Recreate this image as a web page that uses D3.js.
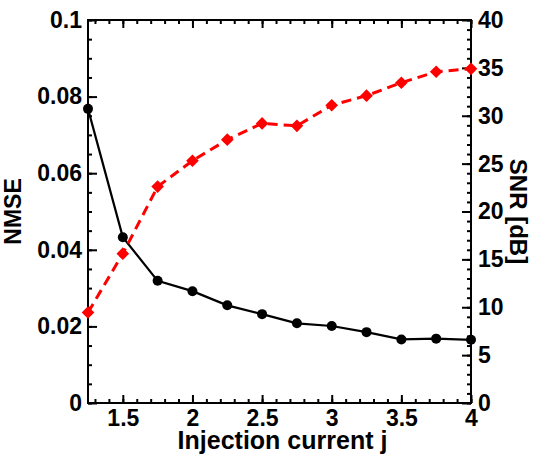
<html>
  <head>
   <script src="https://d3js.org/d3.v7.min.js"></script>
   <style>
    body{
    	margin:0;
    	background:#fff;
    }
    text{
    	font-family:"Liberation Sans", Arial, sans-serif;
    	font-weight:bold;
    }
   </style>
  </head>
  <body>
  <div id="graph"></div>
   <script>
     // injection current j (x), NMSE (left axis), SNR in dB (right axis)
     var currents = [1.25, 1.5, 1.75, 2, 2.25, 2.5, 2.75, 3, 3.25, 3.5, 3.75, 4];
     var nmse = [0.0768, 0.0433, 0.0319, 0.0292, 0.0255, 0.0232, 0.0208, 0.0201, 0.0185, 0.0166, 0.0168, 0.0165];
     var snr = [9.45, 15.6, 22.6, 25.3, 27.5, 29.2, 28.95, 31.1, 32.1, 33.45, 34.6, 34.9];

     var xTicks = [1.5, 2, 2.5, 3, 3.5, 4];
     var nmseTicks = [0, 0.02, 0.04, 0.06, 0.08, 0.1];
     var snrTicks = [0, 5, 10, 15, 20, 25, 30, 35, 40];

     var width = 534, height = 455;
     var plotL = 88, plotR = 471, plotT = 20, plotB = 403;

     var svg = d3.select("#graph")
       .append('svg')
       .attr('width', width)
       .attr('height', height);

     var x = d3.scaleLinear().domain([1.25, 4]).range([plotL, plotR]);
     var yL = d3.scaleLinear().domain([0, 0.1]).range([plotB, plotT]);
     var yR = d3.scaleLinear().domain([0, 40]).range([plotB, plotT]);

     var xMinor = d3.range(13, 41).map(function(d){ return d/10; });
     var yLMinor = d3.range(0, 21).map(function(d){ return d*0.005; });
     var yRMinor = d3.range(0, 41);

     function styleAxis(g){
       g.select('.domain').remove();
       g.selectAll('line').attr('stroke', '#000').attr('stroke-width', 2);
       g.selectAll('text').attr('font-size', 23).attr('fill', '#000')
         .attr('font-family', '"Liberation Sans", Arial, sans-serif').attr('font-weight', 'bold');
     }

     // minor ticks
     svg.append('g').attr('transform', 'translate(0,'+plotB+')')
       .call(d3.axisBottom(x).tickValues(xMinor).tickSize(-4).tickFormat('')).call(styleAxis);
     svg.append('g').attr('transform', 'translate(0,'+plotT+')')
       .call(d3.axisTop(x).tickValues(xMinor).tickSize(-4).tickFormat('')).call(styleAxis);
     svg.append('g').attr('transform', 'translate('+plotL+',0)')
       .call(d3.axisLeft(yL).tickValues(yLMinor).tickSize(-4).tickFormat('')).call(styleAxis);
     svg.append('g').attr('transform', 'translate('+plotR+',0)')
       .call(d3.axisRight(yR).tickValues(yRMinor).tickSize(-4).tickFormat('')).call(styleAxis);

     // major ticks + labels
     svg.append('g').attr('transform', 'translate(0,'+plotB+')')
       .call(d3.axisBottom(x).tickValues(xTicks).tickSize(-8).tickPadding(7).tickFormat(d3.format('~g'))).call(styleAxis);
     svg.append('g').attr('transform', 'translate(0,'+plotT+')')
       .call(d3.axisTop(x).tickValues(xTicks).tickSize(-8).tickFormat('')).call(styleAxis);
     svg.append('g').attr('transform', 'translate('+plotL+',0)')
       .call(d3.axisLeft(yL).tickValues(nmseTicks).tickSize(-9).tickPadding(6).tickFormat(d3.format('~g'))).call(styleAxis);
     svg.append('g').attr('transform', 'translate('+plotR+',0)')
       .call(d3.axisRight(yR).tickValues(snrTicks).tickSize(-9).tickPadding(7).tickFormat(d3.format('~g'))).call(styleAxis);

     // frame
     svg.append('rect')
       .attr('x', plotL).attr('y', plotT)
       .attr('width', plotR-plotL).attr('height', plotB-plotT)
       .attr('fill', 'none').attr('stroke', '#000').attr('stroke-width', 2);

     // NMSE series
     var nmseLine = d3.line()
       .x(function(d, i){ return x(currents[i]); })
       .y(function(d){ return yL(d); });
     svg.append('path')
       .datum(nmse)
       .attr('d', nmseLine)
       .attr('fill', 'none').attr('stroke', '#000').attr('stroke-width', 2.2);
     svg.append('g').selectAll('circle')
       .data(nmse)
       .enter()
       .append('circle')
       .attr('cx', function(d, i){ return x(currents[i]); })
       .attr('cy', function(d){ return yL(d); })
       .attr('r', 5)
       .attr('fill', '#000');

     // SNR series
     var snrLine = d3.line()
       .x(function(d, i){ return x(currents[i]); })
       .y(function(d){ return yR(d); });
     svg.append('path')
       .datum(snr)
       .attr('d', snrLine)
       .attr('fill', 'none').attr('stroke', '#ff0000').attr('stroke-width', 3)
       .attr('stroke-dasharray', '10,6');
     svg.append('g').selectAll('path')
       .data(snr)
       .enter()
       .append('path')
       .attr('d', d3.symbol().type(d3.symbolSquare).size(80))
       .attr('transform', function(d, i){ return 'translate('+x(currents[i])+','+yR(d)+') rotate(45)'; })
       .attr('fill', '#ff0000');

     // axis titles
     svg.append('text')
       .attr('x', (plotL+plotR)/2 + 3).attr('y', 449)
       .attr('text-anchor', 'middle').attr('font-size', 25)
       .text('Injection current j');
     svg.append('text')
       .attr('transform', 'translate(21,'+((plotT+plotB)/2)+') rotate(-90)')
       .attr('text-anchor', 'middle').attr('font-size', 23)
       .text('NMSE');
     svg.append('text')
       .attr('transform', 'translate(510,'+((plotT+plotB)/2)+') rotate(90)')
       .attr('text-anchor', 'middle').attr('font-size', 24)
       .text('SNR [dB]');
  </script>
 </body>
</html>
